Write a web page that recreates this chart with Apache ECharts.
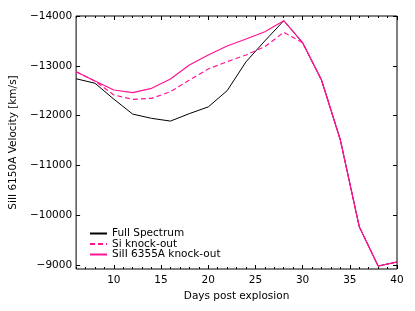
<!DOCTYPE html>
<html><head><meta charset="utf-8">
<script src="https://cdn.jsdelivr.net/npm/echarts@6/dist/echarts.min.js"></script>
<style>html,body{margin:0;padding:0;background:#fff}#c{width:415px;height:311px}</style>
</head><body><div id="c"></div>
<script>
const days = [6, 8, 10, 12, 14, 16, 18, 20, 22, 24, 26, 28, 30, 32, 34, 36, 38, 40];
const fullSpectrum = [-12740, -12650, -12330, -12030, -11945, -11890, -12040, -12175, -12500, -13080, -13500, -13905, -13464, -12715, -11510, -9770, -8980, -9060];
const siKnockOut = [-12882, -12695, -12414, -12327, -12347, -12480, -12715, -12936, -13082, -13217, -13384, -13672, -13464, -12715, -11510, -9770, -8980, -9060];
const siII6355KnockOut = [-12882, -12695, -12514, -12460, -12548, -12735, -13016, -13217, -13398, -13538, -13685, -13906, -13464, -12715, -11510, -9770, -8980, -9060];
const xTicks = [10, 15, 20, 25, 30, 35, 40];
const yTicks = [-14000, -13000, -12000, -11000, -10000, -9000];
const seriesNames = ['Full Spectrum', 'Si knock-out', 'SiII 6355A knock-out'];

const font = 'DejaVu Sans';
const pink = '#ff1493';
const pair = (xs, ys) => xs.map((x, i) => [x, ys[i]]);
const minus = v => String(v).replace('-', '\u2212');

const chart = echarts.init(document.getElementById('c'), null, {renderer: 'canvas'});
const baseX = {type: 'value', min: 6, max: 40, splitLine: {show: false}, axisLine: {show: false}};
const baseY = {type: 'value', min: -14000, max: -8920, inverse: true, splitLine: {show: false}, axisLine: {show: false}};
chart.setOption({
  animation: false,
  textStyle: {fontFamily: font},
  grid: {left: 72, right: 18, top: 16, bottom: 42, show: true, borderColor: '#000', borderWidth: 1, containLabel: false},
  xAxis: [
    Object.assign({}, baseX, {position: 'bottom',
      axisTick: {inside: true, length: 4, customValues: xTicks, lineStyle: {color: '#000'}},
      axisLabel: {customValues: xTicks, fontSize: 10.5, color: '#000', margin: 6, fontFamily: font},
      name: 'Days post explosion', nameLocation: 'middle', nameGap: 19,
      nameTextStyle: {fontSize: 10.5, color: '#000', fontFamily: font}}),
    Object.assign({}, baseX, {position: 'bottom', interval: 1,
      axisTick: {inside: true, length: 2, lineStyle: {color: '#000'}}, axisLabel: {show: false}}),
    Object.assign({}, baseX, {position: 'top',
      axisTick: {inside: true, length: 4, customValues: xTicks, lineStyle: {color: '#000'}}, axisLabel: {show: false}}),
    Object.assign({}, baseX, {position: 'top', interval: 1,
      axisTick: {inside: true, length: 2, lineStyle: {color: '#000'}}, axisLabel: {show: false}})
  ],
  yAxis: [
    Object.assign({}, baseY, {position: 'left',
      axisTick: {inside: true, length: 4, customValues: yTicks, lineStyle: {color: '#000'}},
      axisLabel: {customValues: yTicks, fontSize: 10.5, color: '#000', margin: 4, fontFamily: font, formatter: minus},
      name: 'SiII 6150A Velocity [km/s]', nameLocation: 'middle', nameRotate: 90, nameGap: 54,
      nameTextStyle: {fontSize: 10.5, color: '#000', fontFamily: font}}),
    Object.assign({}, baseY, {position: 'right',
      axisTick: {inside: true, length: 4, customValues: yTicks, lineStyle: {color: '#000'}}, axisLabel: {show: false}})
  ],
  legend: {
    orient: 'vertical', left: 84, top: 223, itemWidth: 17, itemHeight: 9, itemGap: -0.5,
    itemStyle: {color: 'transparent', borderColor: 'transparent', borderWidth: 0, opacity: 0},
    textStyle: {fontSize: 10.5, lineHeight: 10, color: '#000', fontFamily: font},
    data: seriesNames
  },
  series: [
    {name: seriesNames[0], type: 'line', data: pair(days, fullSpectrum), symbol: 'none',
     lineStyle: {color: '#000', width: 1}, itemStyle: {color: '#000'}},
    {name: seriesNames[1], type: 'line', data: pair(days, siKnockOut), symbol: 'none',
     lineStyle: {color: pink, width: 1.2, type: [5, 3]}, itemStyle: {color: pink}},
    {name: seriesNames[2], type: 'line', data: pair(days, siII6355KnockOut), symbol: 'none',
     lineStyle: {color: pink, width: 1.2}, itemStyle: {color: pink}}
  ]
});
</script></body></html>
